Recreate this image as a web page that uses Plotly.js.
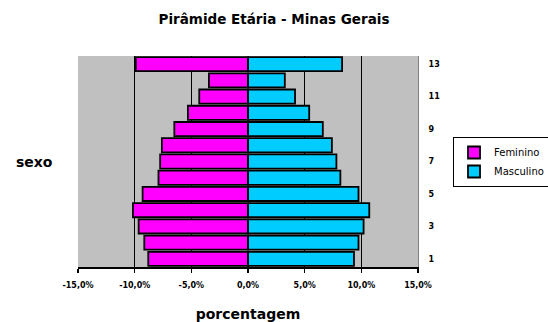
<!DOCTYPE html>
<html>
<head>
<meta charset="utf-8">
<script src="https://cdn.plot.ly/plotly-3.0.1.min.js"></script>
<style>html,body{margin:0;padding:0;background:#fff;}</style>
</head>
<body>
<div id="chart" style="width:548px;height:322px;"></div>
<script>
// Age groups (1 = youngest, 13 = oldest)
const categories = [1, 2, 3, 4, 5, 6, 7, 8, 9, 10, 11, 12, 13];
// Percent of population per age group
const feminino  = [8.8, 9.15, 9.65, 10.15, 9.3, 7.9, 7.75, 7.6, 6.5, 5.3, 4.3, 3.45, 9.9];
const masculino = [9.35, 9.75, 10.2, 10.7, 9.75, 8.15, 7.8, 7.4, 6.6, 5.4, 4.15, 3.25, 8.3];
const yTickVals = [1, 3, 5, 7, 9, 11, 13];
const xTickVals = [-15, -10, -5, 0, 5, 10, 15];
const xTickText = ['-15,0%', '-10,0%', '-5,0%', '0,0%', '5,0%', '10,0%', '15,0%'];
const xGridVals = [-10, -5, 5, 10];

const lineStyle = {color: '#000000', width: 1.8};

const traces = [
  {
    type: 'bar', orientation: 'h', name: 'Feminino',
    y: categories, x: feminino.map(v => -v),
    marker: {color: '#FF00FF', line: lineStyle},
    hoverinfo: 'skip'
  },
  {
    type: 'bar', orientation: 'h', name: 'Masculino',
    y: categories, x: masculino,
    marker: {color: '#00CCFF', line: lineStyle},
    hoverinfo: 'skip'
  }
];

const boldFont = {family: 'DejaVu Sans', color: '#000000', weight: 'bold'};

const layout = {
  width: 548, height: 322,
  margin: {l: 78, r: 130, t: 56, b: 55, autoexpand: false},
  paper_bgcolor: '#FFFFFF',
  plot_bgcolor: '#C0C0C0',
  barmode: 'relative',
  bargap: 0.13,
  showlegend: true,
  title: {
    text: 'Pirâmide Etária - Minas Gerais',
    font: Object.assign({size: 13.5}, boldFont),
    x: 0.5, xanchor: 'center', y: 0.941, yanchor: 'middle'
  },
  xaxis: {
    range: [-15, 15],
    tickvals: xTickVals, ticktext: xTickText,
    tickfont: Object.assign({size: 8}, boldFont),
    ticks: 'outside', ticklen: 4, tickwidth: 1.5, tickcolor: '#000000',
    ticklabelstandoff: 6,
    showline: true, linecolor: '#000000', linewidth: 1.5,
    showgrid: false, zeroline: false,
    minor: {tickvals: xGridVals, showgrid: true, gridcolor: '#000000', gridwidth: 1.5, ticks: ''},
    title: {text: 'porcentagem', font: Object.assign({size: 14}, boldFont), standoff: 20},
    fixedrange: true
  },
  yaxis: {
    side: 'right',
    range: [0.5, 13.5],
    tickvals: yTickVals,
    tickfont: Object.assign({size: 8}, boldFont),
    ticks: '', ticklabelstandoff: 8,
    showline: true, linecolor: '#808080', linewidth: 1,
    showgrid: false, zeroline: false,
    fixedrange: true
  },
  legend: {
    x: 1.103, xanchor: 'left', y: 0.616, yanchor: 'top',
    bgcolor: '#FFFFFF', bordercolor: '#000000', borderwidth: 1,
    font: {family: 'DejaVu Sans', size: 10, color: '#000000'},
    traceorder: 'normal'
  },
  annotations: [
    {
      text: 'sexo', xref: 'paper', yref: 'paper', x: -0.129, y: 0.5,
      xanchor: 'center', yanchor: 'middle', showarrow: false,
      font: Object.assign({size: 14}, boldFont)
    }
  ]
};

Plotly.newPlot('chart', traces, layout, {displayModeBar: false, staticPlot: true});
</script>
</body>
</html>
